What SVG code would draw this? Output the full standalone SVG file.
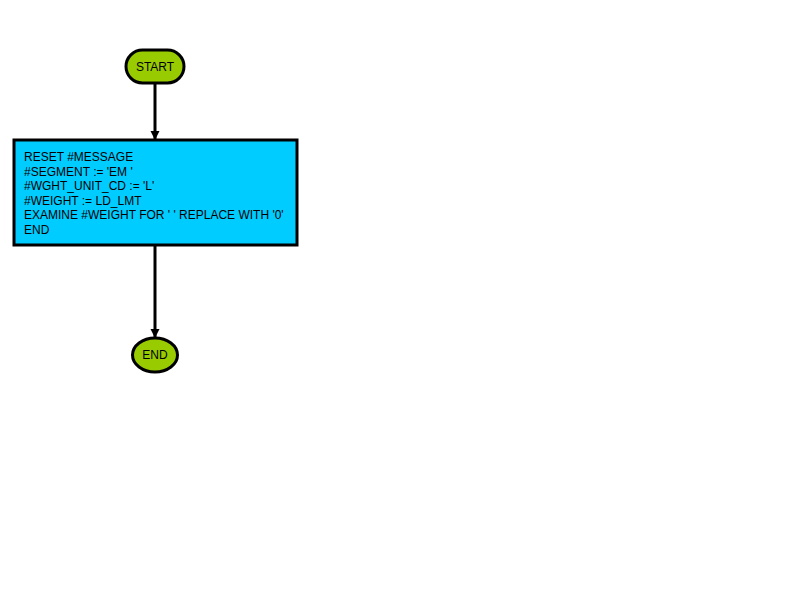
<svg xmlns="http://www.w3.org/2000/svg" width="800" height="600" viewBox="0 0 800 600">
<style>
.t{font-family:"Liberation Sans",Arial,sans-serif;font-size:12px;fill:#000}
.term{fill:#99cc00;stroke:#000;stroke-width:3}
.proc{fill:#00ccff;stroke:#000;stroke-width:3}
.conn{stroke:#000;stroke-width:3;fill:none}
</style>
<defs>
<marker id="ah" markerWidth="10" markerHeight="10" refX="8" refY="5" orient="auto" markerUnits="userSpaceOnUse">
<path d="M0,0.5 L9,5 L0,9.5 Z" fill="#000"/>
</marker>
</defs>
<rect width="800" height="600" fill="#fff"/>
<g id="connectors">
<line class="conn" x1="155" y1="84" x2="155" y2="139" marker-end="url(#ah)"/>
<line class="conn" x1="155" y1="246" x2="155" y2="337" marker-end="url(#ah)"/>
</g>
<g id="start">
<rect class="term" x="126" y="50" width="58" height="33" rx="16.5" ry="16.5"/>
<text class="t" x="155" y="71" text-anchor="middle">START</text>
</g>
<g id="process">
<rect class="proc" x="14" y="140" width="283" height="105"/>
<text class="t" x="24" y="161">RESET #MESSAGE</text>
<text class="t" x="24" y="175.5">#SEGMENT := 'EM '</text>
<text class="t" x="24" y="190">#WGHT_UNIT_CD := 'L'</text>
<text class="t" x="24" y="204.5">#WEIGHT := LD_LMT</text>
<text class="t" x="24" y="219">EXAMINE #WEIGHT FOR ' ' REPLACE WITH '0'</text>
<text class="t" x="24" y="233.5">END</text>
</g>
<g id="end">
<ellipse class="term" cx="155" cy="355" rx="22.5" ry="17"/>
<text class="t" x="155" y="359" text-anchor="middle">END</text>
</g>
</svg>
